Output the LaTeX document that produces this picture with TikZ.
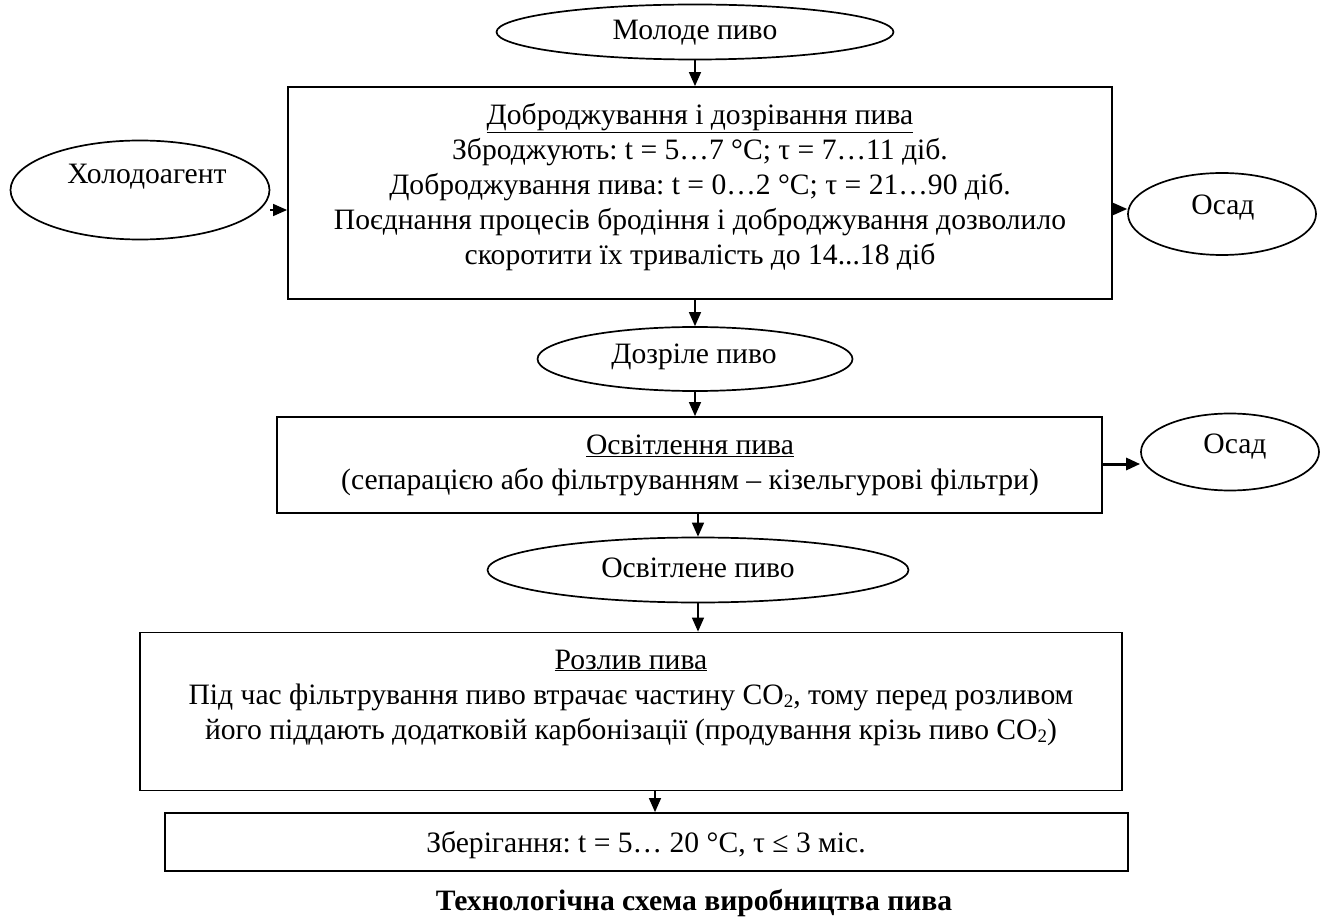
\documentclass[tikz,border=0pt]{standalone}
\usepackage{fontspec}
\setmainfont{Liberation Serif}
\usetikzlibrary{arrows.meta,shapes.geometric}
\newcommand{\subtwo}{\raisebox{-0.12em}{\fontsize{19}{19}\selectfont 2}}
\frenchspacing
\tikzset{
  stepbox/.style={draw, line width=1.8pt, rectangle, inner sep=0pt},
  oval/.style={draw, line width=1.7pt, ellipse, inner sep=0pt},
  lbl/.style={font=\fontsize{29.6}{35}\selectfont\frenchspacing, align=center, inner sep=0pt},
  arr/.style={line width=1.4pt, -{Triangle[length=14pt,width=12pt]}},
}
\begin{document}
\begin{tikzpicture}[x=1pt,y=-1pt]
\useasboundingbox (0,0) rectangle (1323,917);
% ellipses
\node[oval, minimum width=397, minimum height=55] (molode) at (695,32) {};
\node[lbl] (molodet) at (695,33) {Молоде пиво};
\node[oval, minimum width=259, minimum height=99] (hol) at (140,190) {};
\node[lbl] (holt) at (147,177) {Холодоагент};
\node[oval, minimum width=188, minimum height=82] (osad1) at (1222,214) {};
\node[lbl] (osad1t) at (1223,208) {Осад};
\node[oval, minimum width=315, minimum height=64] (dozr) at (695,359) {};
\node[lbl] (dozrt) at (694,357) {Дозріле пиво};
\node[oval, minimum width=178, minimum height=77] (osad2) at (1230,452) {};
\node[lbl] (osad2t) at (1235,447) {Осад};
\node[oval, minimum width=421, minimum height=65] (osv) at (698,570) {};
\node[lbl] (osvt) at (698,568) {Освітлене пиво};
% boxes
\node[stepbox, minimum width=824, minimum height=212] (b1) at (700,193) {};
\node[lbl] (b1t) at (700,187) {\underline{Доброджування і дозрівання пива}\\
  Зброджують: t = 5…7 °C; τ = 7…11 діб.\\
  Доброджування пива: t = 0…2 °C; τ = 21…90 діб.\\
  Поєднання процесів бродіння і доброджування дозволило\\
  скоротити їх тривалість до 14...18 діб};
\node[stepbox, minimum width=825, minimum height=96] (b2) at (689.5,465) {};
\node[lbl] (b2t) at (690,465.5) {\underline{Освітлення пива}\\
  (сепарацією або фільтруванням – кізельгурові фільтри)};
\node[stepbox, minimum width=982, minimum height=158] (b3) at (631,711.5) {};
\node[lbl] (b3t) at (631,697.5) {\underline{Розлив пива}\\
  Під час фільтрування пиво втрачає частину CO\subtwo, тому перед розливом\\
  його піддають додатковій карбонізації (продування крізь пиво CO\subtwo)};
\node[stepbox, minimum width=963, minimum height=58] (b4) at (646.5,842) {};
\node[lbl] (b4t) at (646,845) {Зберігання: t = 5… 20 °C, τ ≤ 3 міс.};
\node[lbl, font=\fontsize{29.6}{35}\selectfont\bfseries] (cap) at (694,903) {Технологічна схема виробництва пива};
% connectors
\draw[arr] (molode.south) -- (molode.south |- b1.north);
\draw[arr] ([yshift=-20pt]hol.east) -- ([yshift=-20pt]hol.east -| b1.west);
\draw[arr] ([yshift=5pt]osad1.west -| b1.east) -- ([yshift=5pt]osad1.west);
\draw[arr] (dozr.north |- b1.south) -- (dozr.north);
\draw[arr] (dozr.south) -- (dozr.south |- b2.north);
\draw[arr, line width=3pt] ([yshift=-12pt]osad2.west -| b2.east) -- ([yshift=-12pt]osad2.west);
\draw[arr] (osv.north |- b2.south) -- (osv.north);
\draw[arr] (osv.south) -- (osv.south |- b3.north);
\draw[arr] ([xshift=24pt]b3.south) -- ([xshift=24pt]b3.south |- b4.north);
\end{tikzpicture}
\end{document}
